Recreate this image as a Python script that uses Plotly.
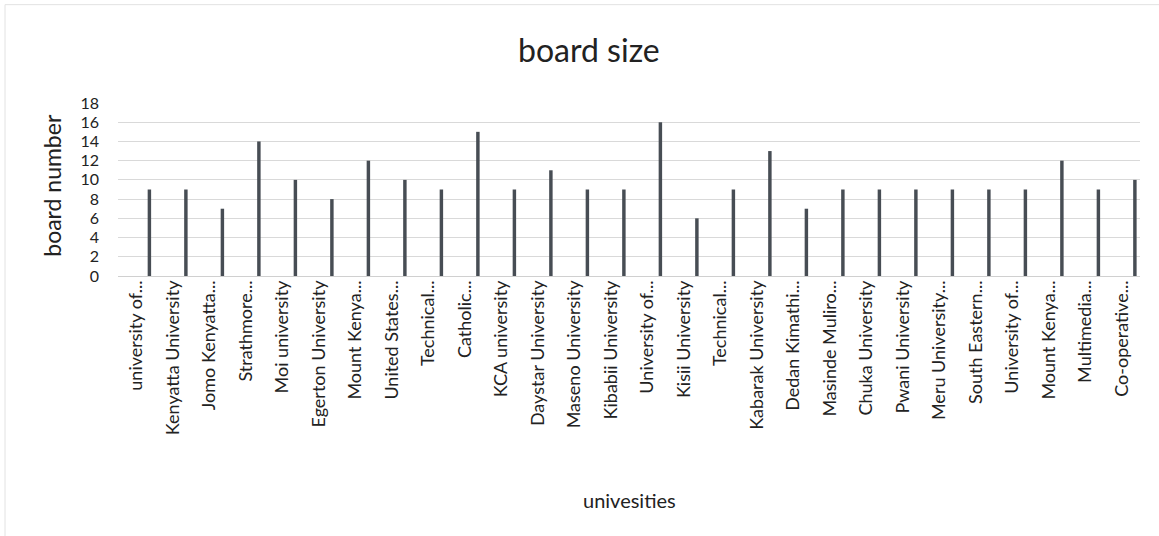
import plotly.graph_objects as go

categories = [
    "university of...", "Kenyatta University", "Jomo Kenyatta...", "Strathmore...",
    "Moi university", "Egerton University", "Mount Kenya...", "United States...",
    "Technical...", "Catholic...", "KCA university", "Daystar University",
    "Maseno University", "Kibabii University", "University of...", "Kisii University",
    "Technical...", "Kabarak University", "Dedan Kimathi...", "Masinde Muliro...",
    "Chuka University", "Pwani University", "Meru University...", "South Eastern...",
    "University of...", "Mount Kenya...", "Multimedia...", "Co-operative...",
]
board_size = [9, 9, 7, 14, 10, 8, 12, 10, 9, 15, 9, 11, 9, 9, 16, 6, 9, 13, 7, 9, 9, 9, 9, 9, 9, 12, 9, 10]
y_ticks = [0, 2, 4, 6, 8, 10, 12, 14, 16, 18]

W, H = 1159, 536
left, right, top, bottom = 118, 1140, 103.3, 276.2
FONT = "Lato"

idx = list(range(len(categories)))
bar_x = [i + 0.36 for i in idx]

fig = go.Figure()
fig.add_trace(go.Bar(
    x=bar_x, y=board_size, width=0.095,
    marker=dict(color="#474d54", line=dict(width=0)),
    showlegend=False, hoverinfo="y",
))

plot_h = bottom - top
plot_w = right - left

fig.update_layout(
    width=W, height=H,
    margin=dict(l=left, r=W - right, t=top, b=H - bottom, pad=0),
    paper_bgcolor="white", plot_bgcolor="white",
    font=dict(family=FONT, color="#222222"),
    xaxis=dict(
        range=[-0.5, len(categories) - 0.5],
        tickmode="array", tickvals=idx, ticktext=categories,
        tickangle=-90, tickfont=dict(size=18, family=FONT, color="#222222"),
        showgrid=False, zeroline=False, showline=False, ticks="",
        fixedrange=True,
    ),
    yaxis=dict(
        range=[0, 18], tickmode="array", tickvals=y_ticks,
        tickfont=dict(size=16, family=FONT, color="#222222"),
        showgrid=True, gridcolor="#d9d9d9", gridwidth=1,
        zeroline=True, zerolinecolor="#d0d0d0", zerolinewidth=1,
        showline=False, ticks="", ticklabelstandoff=18,
        fixedrange=True,
    ),
    annotations=[
        dict(text="board size", xref="paper", yref="paper",
             x=(589 - left) / plot_w, y=(bottom - 50) / plot_h,
             xanchor="center", yanchor="middle", showarrow=False,
             font=dict(size=32, family=FONT, color="#222222")),
        dict(text="univesities", xref="paper", yref="paper",
             x=0.5, y=(bottom - 500) / plot_h,
             xanchor="center", yanchor="middle", showarrow=False,
             font=dict(size=20, family=FONT, color="#222222")),
        dict(text="board number", xref="paper", yref="paper",
             x=(52 - left) / plot_w, y=(bottom - 186) / plot_h,
             xanchor="center", yanchor="middle", showarrow=False, textangle=-90,
             font=dict(size=23, family=FONT, color="#222222")),
    ],
    shapes=[
        dict(type="line", xref="paper", yref="paper",
             x0=(5 - left) / plot_w, x1=(5 - left) / plot_w,
             y0=(bottom - 5) / plot_h, y1=(bottom - 536) / plot_h,
             line=dict(color="#e2e2e2", width=1)),
        dict(type="line", xref="paper", yref="paper",
             x0=(5 - left) / plot_w, x1=(1159 - left) / plot_w,
             y0=(bottom - 5) / plot_h, y1=(bottom - 5) / plot_h,
             line=dict(color="#e2e2e2", width=1)),
    ],
)

fig.write_html("out.html")
